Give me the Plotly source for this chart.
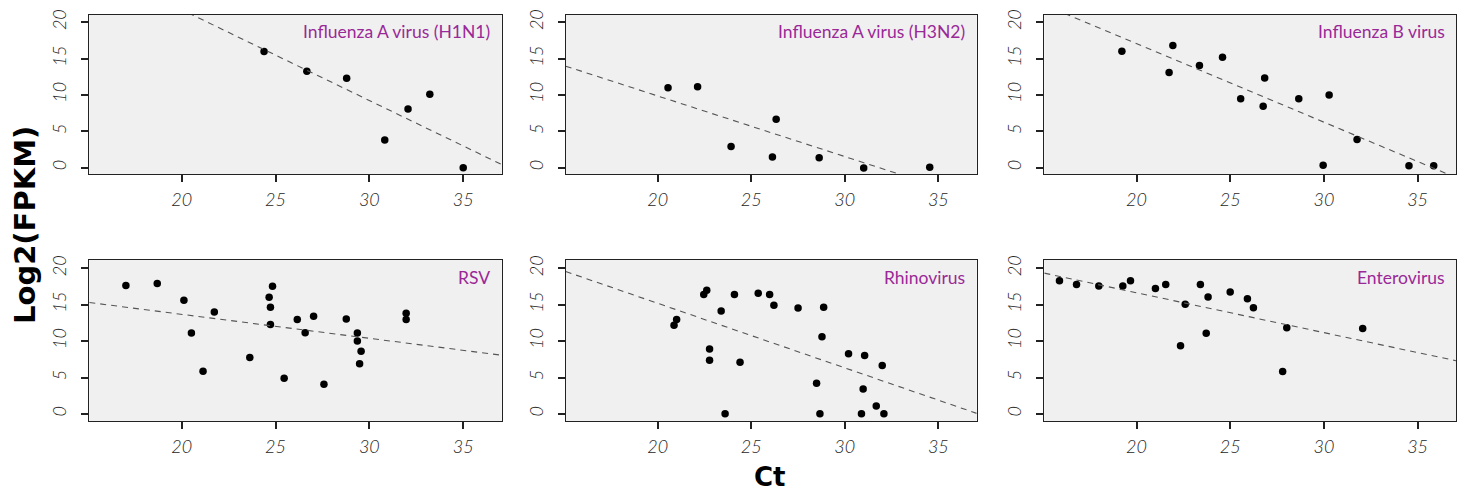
import numpy as np
import plotly.graph_objects as go

# ---- data ----
panel_titles = ["Influenza A virus (H1N1)", "Influenza A virus (H3N2)", "Influenza B virus",
                "RSV", "Rhinovirus", "Enterovirus"]

h1n1_ct = [24.39, 26.67, 28.79, 32.06, 33.22, 30.82, 35.00]
h1n1_fpkm = [16.00, 13.26, 12.29, 8.07, 10.09, 3.81, 0.00]

h3n2_ct = [20.55, 22.13, 23.92, 26.33, 26.13, 28.63, 31.01, 34.54]
h3n2_fpkm = [11.00, 11.14, 2.92, 6.67, 1.46, 1.37, -0.05, 0.05]

fluB_ct = [19.22, 21.94, 21.74, 23.36, 24.59, 25.56, 26.84, 26.76, 28.66, 30.28, 29.96, 31.77, 34.54, 35.86]
fluB_fpkm = [16.03, 16.80, 13.10, 14.06, 15.21, 9.50, 12.33, 8.45, 9.50, 10.00, 0.32, 3.88, 0.27, 0.27]

rsv_ct = [17.03, 18.70, 20.12, 20.52, 21.14, 21.74, 23.63, 24.66, 24.84, 24.73, 24.73, 25.46,
          26.16, 26.58, 27.03, 27.58, 28.77, 29.36, 29.36, 29.56, 29.48, 31.96, 31.96]
rsv_fpkm = [17.66, 17.93, 15.63, 11.13, 5.89, 14.02, 7.77, 16.05, 17.56, 14.67, 12.28, 4.92,
            12.97, 11.17, 13.43, 4.09, 13.06, 11.13, 10.02, 8.64, 6.90, 13.84, 12.97]

rhino_ct = [20.87, 21.01, 22.46, 22.62, 22.77, 22.77, 23.39, 23.60, 24.10, 24.40, 25.37, 25.98, 26.21,
            27.50, 28.87, 28.78, 28.49, 28.67, 30.20, 31.06, 30.98, 30.89, 31.68, 32.00, 32.09]
rhino_fpkm = [12.18, 12.97, 16.41, 17.01, 8.92, 7.40, 14.16, 0.05, 16.41, 7.13, 16.60, 16.41, 14.94,
              14.57, 14.67, 10.62, 4.23, 0.05, 8.28, 8.05, 3.45, 0.05, 1.10, 6.67, 0.05]

entero_ct = [15.89, 16.80, 17.99, 19.27, 19.68, 21.01, 21.56, 22.35, 22.60, 23.41, 23.72, 23.82,
             25.00, 25.92, 26.24, 27.80, 28.02, 32.07]
entero_fpkm = [18.31, 17.80, 17.57, 17.57, 18.31, 17.25, 17.80, 9.38, 15.06, 17.80, 11.08, 16.06,
               16.75, 15.84, 14.60, 5.86, 11.85, 11.76]

x_ticks = [20, 25, 30, 35]
y_ticks = [0, 5, 10, 15, 20]

series = [(h1n1_ct, h1n1_fpkm), (h3n2_ct, h3n2_fpkm), (fluB_ct, fluB_fpkm),
          (rsv_ct, rsv_fpkm), (rhino_ct, rhino_fpkm), (entero_ct, entero_fpkm)]

# ---- layout geometry ----
W, H = 1465, 494
col_px = [(89.3, 501.7), (565.7, 976.7), (1044.3, 1456.0)]
row_px = [(14.7, 174.3), (260.0, 421.0)]
x_range = [15.08, 37.05]
y_ranges = [[-0.91, 21.05], [-0.95, 21.15]]

title_color = "#9a2898"
tick_font = dict(family="Lato", size=18, color="#262626", style="italic", weight=300)

fig = go.Figure()
layout_axes = {}
annotations = []

for i, ((xs, ys), title) in enumerate(zip(series, panel_titles)):
    r, c = divmod(i, 3)
    n = i + 1
    xa = "x" if n == 1 else f"x{n}"
    ya = "y" if n == 1 else f"y{n}"
    xkey = "xaxis" if n == 1 else f"xaxis{n}"
    ykey = "yaxis" if n == 1 else f"yaxis{n}"

    fig.add_trace(go.Scatter(x=xs, y=ys, mode="markers", xaxis=xa, yaxis=ya,
                             marker=dict(color="black", size=7.5), showlegend=False,
                             cliponaxis=False))
    slope, intercept = np.polyfit(np.array(xs), np.array(ys), 1)
    lx = np.array(x_range)
    fig.add_trace(go.Scatter(x=lx, y=intercept + slope * lx, mode="lines", xaxis=xa, yaxis=ya,
                             line=dict(color="#555555", width=1.1, dash="6px,5px"),
                             showlegend=False, hoverinfo="skip"))

    x0, x1 = col_px[c]
    yt, yb = row_px[r]
    layout_axes[xkey] = dict(domain=[x0 / W, x1 / W], range=x_range, anchor=ya,
                             tickvals=x_ticks, ticks="outside", ticklen=7, tickwidth=2,
                             tickcolor="#222222", showline=True, linecolor="#222222",
                             linewidth=1, mirror=True, showgrid=False, zeroline=False,
                             tickfont=tick_font, ticklabelstandoff=2, automargin=False)
    layout_axes[ykey] = dict(domain=[1 - yb / H, 1 - yt / H], range=y_ranges[r], anchor=xa,
                             tickvals=y_ticks, ticks="outside", ticklen=7, tickwidth=2,
                             tickcolor="#222222", showline=True, linecolor="#222222",
                             linewidth=1, mirror=True, showgrid=False, zeroline=False,
                             tickangle=-90, tickfont=tick_font, ticklabelstandoff=8,
                             automargin=False)
    annotations.append(dict(text=title, xref=f"{xa} domain", yref=f"{ya} domain",
                            x=0.977, y=0.97, xanchor="right", yanchor="top", showarrow=False,
                            font=dict(family="Lato", size=17.5, color=title_color)))

annotations.append(dict(text="Log2(FPKM)", xref="paper", yref="paper", x=25 / W, y=1 - 225 / H,
                        textangle=-90, showarrow=False, xanchor="center", yanchor="middle",
                        borderpad=0,
                        font=dict(family="DejaVu Sans", size=29, color="black", weight="bold")))
annotations.append(dict(text="Ct", xref="paper", yref="paper", x=770 / W, y=1 - 477 / H,
                        showarrow=False, xanchor="center", yanchor="middle", borderpad=0,
                        font=dict(family="DejaVu Sans", size=26, color="black", weight="bold")))

fig.update_layout(width=W, height=H, margin=dict(l=0, r=0, t=0, b=0),
                  paper_bgcolor="white", plot_bgcolor="#f0f0f0",
                  annotations=annotations, **layout_axes)

fig.write_html("out.html", config={"displayModeBar": False},
               post_script="document.body.style.margin='0';document.body.style.overflow='hidden';")
